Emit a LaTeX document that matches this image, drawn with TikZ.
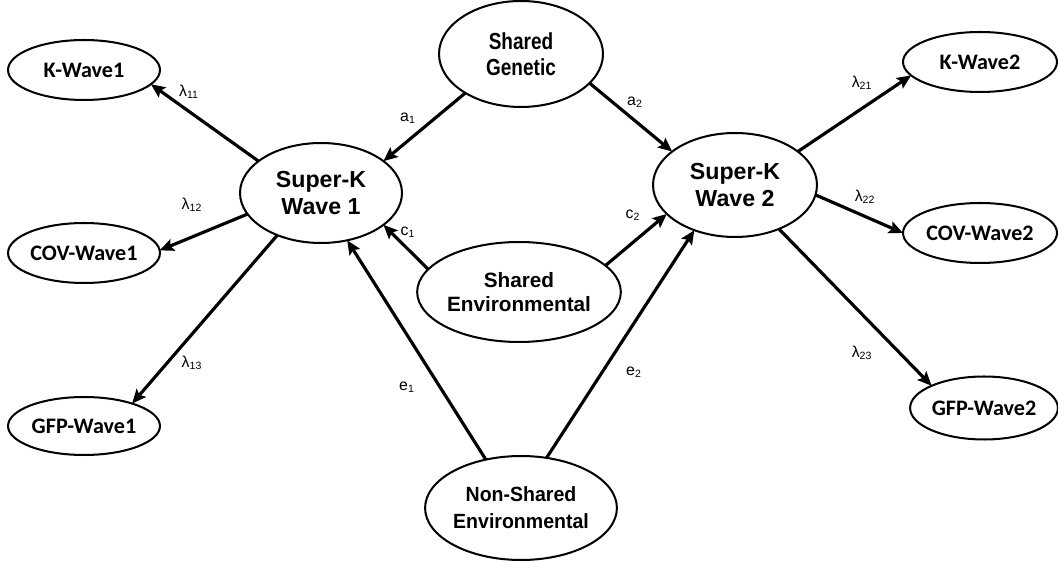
\documentclass[tikz,border=0pt]{standalone}
\usepackage{fontspec}
\setmainfont{Liberation Sans}
\newfontfamily\calibfont{Carlito}
\newfontfamily\narrowfont[FakeStretch=0.82]{Liberation Sans}
\newfontfamily\semifont[FakeStretch=0.95]{Liberation Sans}
\usetikzlibrary{shapes.geometric,arrows.meta}

\begin{document}
\begin{tikzpicture}[x=0.02cm,y=-0.02cm,
  latent/.style={ellipse,draw,line width=1.15pt,inner sep=0pt,outer sep=0pt,align=center},
  bigtext/.style={font=\bfseries\fontsize{13.2}{15.3}\selectfont},
  indicator/.style={ellipse,draw,line width=1.15pt,inner sep=0pt,outer sep=0pt,
    font=\calibfont\bfseries\fontsize{12.6}{14}\selectfont,
    minimum width=3.04cm,minimum height=1.2cm},
  link/.style={line width=1.8pt,-{Stealth[length=8pt,width=7pt,inset=1.5pt]}},
  coef/.style={font=\fontsize{9}{10}\selectfont,inner sep=0pt}]
\useasboundingbox (0,0) rectangle (1058,563);

% latent factors
\node[latent,bigtext,minimum width=3.24cm,minimum height=2.0cm] (sk1) at (321,193) {Super-K\\Wave 1};
\node[latent,bigtext,minimum width=3.28cm,minimum height=2.08cm] (sk2) at (735,185) {Super-K\\Wave 2};
\node[latent,minimum width=3.28cm,minimum height=2.12cm,
  font=\narrowfont\bfseries\fontsize{13.2}{14.7}\selectfont] (sg) at (521,54) {Shared\\Genetic};
\node[latent,minimum width=3.28cm,minimum height=2.0cm,
  font=\bfseries\fontsize{11.8}{13.2}\selectfont] (se) at (519,292) {Shared\\Environmental};
\node[latent,minimum width=3.28cm,minimum height=2.08cm,
  font=\semifont\bfseries\fontsize{11.7}{15.5}\selectfont] (ns) at (521,508) {Non-Shared\\Environmental};

% observed indicators
\node[indicator] (k1) at (84,70) {K-Wave1};
\node[indicator] (cov1) at (84,253) {COV-Wave1};
\node[indicator,minimum height=1.16cm] (gfp1) at (84,426) {GFP-Wave1};
\node[indicator,minimum width=3.08cm] (k2) at (980,62) {K-Wave2};
\node[indicator,minimum width=3.08cm] (cov2) at (980,233) {COV-Wave2};
\node[indicator,minimum width=2.9cm,minimum height=1.26cm] (gfp2) at (984,408) {GFP-Wave2};

% loadings
\draw[link] (sk1.153) -- (k1.-12);
\draw[link] (sk1.196) -- (cov1.2);
\draw[link] (sk1.224) -- (gfp1.25);
\draw[link] (sk2.28) -- (k2.191);
\draw[link] (sk2.-7) -- (cov2.180);
\draw[link] (sk2.-45) -- (gfp2.157);

% variance components
\draw[link] (sg.215) -- (sk1.27);
\draw[link] (sg.-23) -- (sk2.152);
\draw[link] (se.166) -- (sk1.-27);
\draw[link] (se.17) -- (sk2.203);
\draw[link] (ns.126) -- (sk1.-61);
\draw[link] (ns.63) -- (sk2.228);

% path coefficients
\node[coef] (l11) at (189,92) {λ\textsubscript{11}};
\node[coef] (l12) at (192,205) {λ\textsubscript{12}};
\node[coef] (l13) at (192,363) {λ\textsubscript{13}};
\node[coef] (l21) at (862,83) {λ\textsubscript{21}};
\node[coef] (l22) at (865,197) {λ\textsubscript{22}};
\node[coef] (l23) at (862,353) {λ\textsubscript{23}};
\node[coef] (ca1) at (408,118) {a\textsubscript{1}};
\node[coef] (ca2) at (635,102) {a\textsubscript{2}};
\node[coef] (cc1) at (408,232) {c\textsubscript{1}};
\node[coef] (cc2) at (633,215) {c\textsubscript{2}};
\node[coef] (ce1) at (407,387) {e\textsubscript{1}};
\node[coef] (ce2) at (634,372) {e\textsubscript{2}};
\end{tikzpicture}
\end{document}
